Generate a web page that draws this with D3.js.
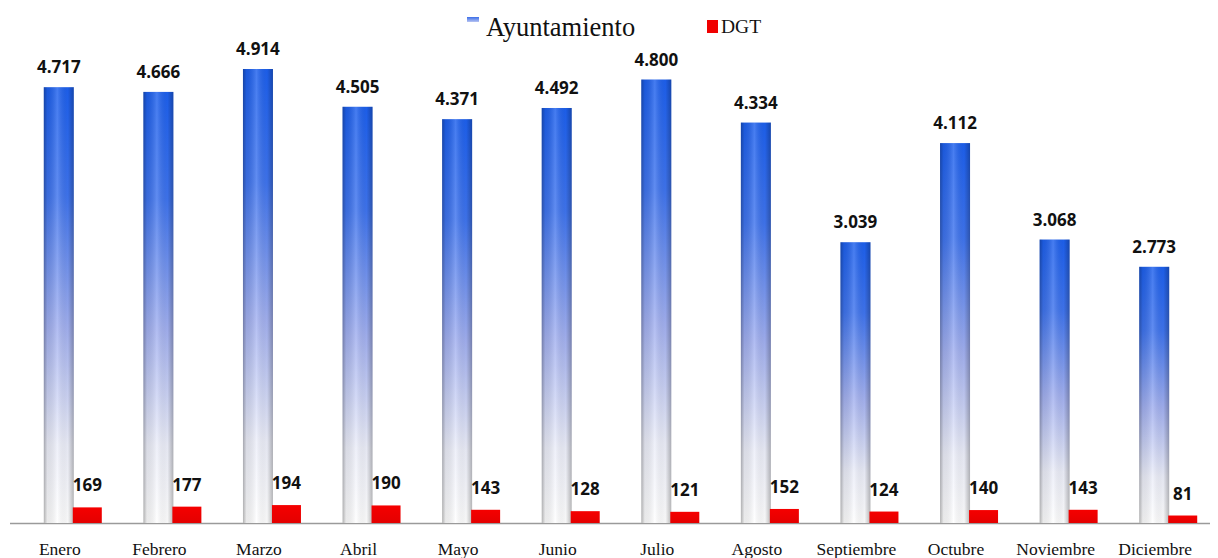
<!DOCTYPE html>
<html><head><meta charset="utf-8">
<script src="https://cdn.jsdelivr.net/npm/d3@7/dist/d3.min.js"></script>
<style>body{margin:0;background:#fff}svg{display:block}</style>
</head><body>
<script>
const months = ["Enero","Febrero","Marzo","Abril","Mayo","Junio","Julio","Agosto","Septiembre","Octubre","Noviembre","Diciembre"];
const ayuntamiento = [4717,4666,4914,4505,4371,4492,4800,4334,3039,4112,3068,2773];
const dgt = [169,177,194,190,143,128,121,152,124,140,143,81];
const seriesNames = ["Ayuntamiento","DGT"];

const W = 1218, H = 558;
const svg = d3.select("body").append("svg").attr("width", W).attr("height", H);
const defs = svg.append("defs");

const gv = defs.append("linearGradient").attr("id","blueV").attr("x1",0).attr("y1",0).attr("x2",0).attr("y2",1);
gv.append("stop").attr("offset","0%").attr("stop-color","#1d60ee");
gv.append("stop").attr("offset","25%").attr("stop-color","#3f74ee");
gv.append("stop").attr("offset","55%").attr("stop-color","#a2b0f0");
gv.append("stop").attr("offset","82%").attr("stop-color","#eceef9");
gv.append("stop").attr("offset","100%").attr("stop-color","#ffffff");
const gh = defs.append("linearGradient").attr("id","shadeH").attr("x1",0).attr("y1",0).attr("x2",1).attr("y2",0);
gh.append("stop").attr("offset","0%").attr("stop-color","#000").attr("stop-opacity",0.3);
gh.append("stop").attr("offset","12%").attr("stop-color","#000").attr("stop-opacity",0.08);
gh.append("stop").attr("offset","45%").attr("stop-color","#fff").attr("stop-opacity",0.18);
gh.append("stop").attr("offset","80%").attr("stop-color","#000").attr("stop-opacity",0.03);
gh.append("stop").attr("offset","100%").attr("stop-color","#000").attr("stop-opacity",0.28);
const gr = defs.append("linearGradient").attr("id","redV").attr("x1",0).attr("y1",0).attr("x2",0).attr("y2",1);
gr.append("stop").attr("offset","0%").attr("stop-color","#f50000");
gr.append("stop").attr("offset","100%").attr("stop-color","#e40000");
const gl = defs.append("linearGradient").attr("id","legBlue").attr("x1",0).attr("y1",0).attr("x2",0).attr("y2",1);
gl.append("stop").attr("offset","0%").attr("stop-color","#3a6de8");
gl.append("stop").attr("offset","100%").attr("stop-color","#b8c4f2");

const baseY = 523;
const x = d3.scaleBand().domain(months).range([10, 1205]).padding(0);
const y = d3.scaleLinear().domain([0, 4914]).range([baseY, 69]);

const bw = x.bandwidth();
const blueOff = bw*0.5 - 16, redOff = bw*0.5 + 13, barW = 30, redW = 29;
const fmt = v => d3.format(",")(v).replace(",", ".");

svg.append("line").attr("x1",10).attr("x2",1210).attr("y1",baseY+0.5).attr("y2",baseY+0.5)
  .attr("stroke","#9a9a9a").attr("stroke-width",1.5);

const g = svg.append("g");
months.forEach((m,i)=>{
  const x0 = x(m)+blueOff;
  const yt = y(ayuntamiento[i]);
  g.append("rect").attr("x",x0).attr("y",yt).attr("width",barW).attr("height",baseY-yt).attr("fill","url(#blueV)");
  g.append("rect").attr("x",x0).attr("y",yt).attr("width",barW).attr("height",baseY-yt).attr("fill","url(#shadeH)");
  g.append("text").attr("x",x0+barW/2).attr("y",yt-14).attr("text-anchor","middle")
    .attr("font-family","'Open Sans', sans-serif").attr("font-weight","bold").attr("font-size",17).attr("fill","#111")
    .text(fmt(ayuntamiento[i]));
  const xr = x(m)+redOff;
  const yr = y(dgt[i]);
  g.append("rect").attr("x",xr).attr("y",yr).attr("width",redW).attr("height",baseY-yr).attr("fill","url(#redV)");
  g.append("text").attr("x",xr+redW/2).attr("y",yr-16).attr("text-anchor","middle")
    .attr("font-family","'Open Sans', sans-serif").attr("font-weight","bold").attr("font-size",17).attr("fill","#111")
    .text(dgt[i]);
  g.append("text").attr("x",x(m)+bw/2).attr("y",555).attr("text-anchor","middle")
    .attr("font-family","'Liberation Serif', 'Times New Roman', serif").attr("font-size",17.5).attr("fill","#111")
    .text(m);
});

svg.append("rect").attr("x",467).attr("y",17).attr("width",12).attr("height",5).attr("fill","url(#legBlue)");
svg.append("text").attr("x",486).attr("y",36).attr("font-family","'Liberation Serif', serif").attr("font-size",26.5).attr("fill","#111").text(seriesNames[0]);
svg.append("rect").attr("x",707).attr("y",20).attr("width",11).attr("height",13).attr("fill","#f00000");
svg.append("text").attr("x",721).attr("y",33).attr("font-family","'Liberation Serif', serif").attr("font-size",19.5).attr("fill","#111").text(seriesNames[1]);
</script>
</body></html>
